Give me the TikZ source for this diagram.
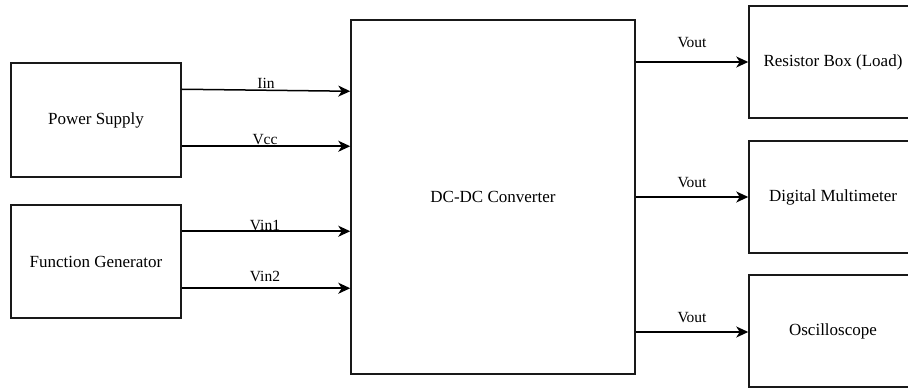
\documentclass[tikz,border=0pt]{standalone}
\usepackage{fontspec}
\setmainfont{Liberation Serif}
\usetikzlibrary{arrows.meta}
\begin{document}
\begin{tikzpicture}[x=1pt,y=1pt,
  blk/.style={draw=black!90, line width=1.5pt, fill=white, inner sep=0pt, font=\fontsize{17}{20}\selectfont},
  conn/.style={draw=black, line width=1.5pt, -{Stealth[length=12pt,width=11pt,inset=3.5pt]}},
  lbl/.style={font=\fontsize{15.5}{18}\selectfont, inner sep=0pt}]
\clip (0,0) rectangle (908,388);
\fill[white] (0,0) rectangle (908,388);
\node[blk, minimum width=170pt, minimum height=114pt] (ps) at (96,268) {Power Supply};
\node[blk, minimum width=170pt, minimum height=113pt] (fg) at (96,126.5) {Function Generator};
\node[blk, minimum width=284pt, minimum height=354pt] (dc) at (493,191) {DC-DC Converter};
\node[blk, minimum width=168pt, minimum height=112pt] (r1) at (833,326) {Resistor Box (Load)};
\node[blk, minimum width=168pt, minimum height=112pt] (r2) at (833,191) {Digital Multimeter};
\node[blk, minimum width=168pt, minimum height=112pt] (r3) at (833,57) {Oscilloscope};
% inputs
\draw[conn] ([yshift=-27pt]ps.north east) -- ([yshift=-72pt]dc.north west);
\draw[conn] ([yshift=-84pt]ps.north east) -- ([yshift=-127pt]dc.north west);
\draw[conn] ([yshift=-27pt]fg.north east) -- ([yshift=-212pt]dc.north west);
\draw[conn] ([yshift=-84pt]fg.north east) -- ([yshift=-269pt]dc.north west);
% outputs
\draw[conn] (dc.east |- r1) -- (r1.west);
\draw[conn] (dc.east |- r2) -- (r2.west);
\draw[conn] ([yshift=-1pt]dc.east |- r3) -- ([yshift=-1pt]r3.west);
% labels
\node[lbl] (lin) at (266,305) {Iin};
\node[lbl] (lvcc) at (265,248) {Vcc};
\node[lbl] (lv1) at (265,163) {Vin1};
\node[lbl] (lv2) at (265,112) {Vin2};
\node[lbl] (lo1) at (692,345) {Vout};
\node[lbl] (lo2) at (692,205) {Vout};
\node[lbl] (lo3) at (692,70) {Vout};
\end{tikzpicture}
\end{document}
